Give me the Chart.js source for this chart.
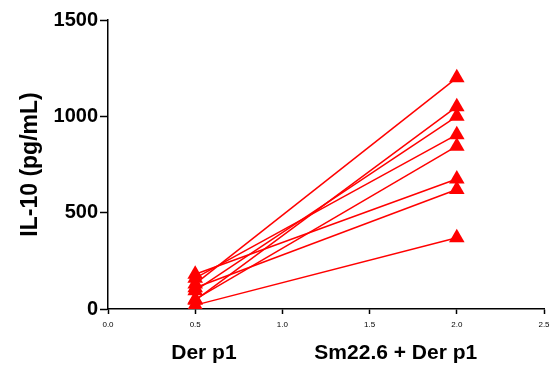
<!DOCTYPE html>
<html>
<head>
<meta charset="utf-8">
<script src="https://cdn.jsdelivr.net/npm/chart.js@4"></script>
<style>
  body { margin: 0; background: #fff; }
  #wrap { width: 553px; height: 366px; }
</style>
</head>
<body>
<div id="wrap"><canvas id="il10Chart"></canvas></div>
<script>
// paired IL-10 values, one line per donor
const derP1 = [130, 45, 95, 160, 50, 180, 110, 20];
const smDerP1 = [1200, 1050, 1000, 905, 845, 675, 620, 370];

const groupX = [0.5, 2.0];
const groupLabels = ['Der p1', 'Sm22.6 + Der p1'];
const groupLabelPos = [0.55, 1.65];

const yTicks = [0, 500, 1000, 1500];

const red = '#ff0000';

const datasets = derP1.map(function (v, i) {
    return {
        label: 'Donor ' + (i + 1),
        data: [
            { x: groupX[0], y: v },
            { x: groupX[1], y: smDerP1[i] }
        ],
        borderColor: red,
        backgroundColor: red,
        borderWidth: 1.5,
        pointStyle: 'triangle',
        pointRadius: 9,
        pointBorderWidth: 0,
        showLine: true
    };
});

new Chart(document.getElementById('il10Chart'), {
    type: 'scatter',
    data: { datasets: datasets },
    options: {
        responsive: true,
        maintainAspectRatio: false,
        animation: false,
        layout: { padding: { top: 20, right: 8, left: 0, bottom: 0 } },
        plugins: {
            legend: { display: false },
            tooltip: { enabled: false }
        },
        scales: {
            x: {
                type: 'linear',
                position: 'bottom',
                min: 0,
                max: 2.5,
                grid: {
                    display: true, drawOnChartArea: false, drawTicks: true,
                    tickLength: 5, tickColor: '#000', tickWidth: 1.5, color: '#000'
                },
                border: { display: true, color: '#000', width: 1.5 },
                ticks: {
                    stepSize: 0.5,
                    padding: 6,
                    color: '#000',
                    font: { family: 'Liberation Sans, Arial, sans-serif', size: 8 },
                    callback: function (v) { return v.toFixed(1); }
                },
                afterFit: function (axis) {
                    axis.height = 26;
                    axis.paddingLeft = 0;
                    axis.paddingRight = 0;
                }
            },
            groups: {
                type: 'linear',
                position: 'bottom',
                min: 0,
                max: 2.5,
                grid: { display: false },
                border: { display: false },
                afterBuildTicks: function (axis) {
                    axis.ticks = groupLabelPos.map(function (v) { return { value: v }; });
                },
                ticks: {
                    autoSkip: false,
                    padding: -2,
                    color: '#000',
                    font: { family: 'Liberation Sans, Arial, sans-serif', size: 21, weight: 'bold' },
                    callback: function (v, i) { return groupLabels[i]; }
                },
                afterFit: function (axis) {
                    axis.height = 31;
                    axis.paddingLeft = 0;
                    axis.paddingRight = 0;
                }
            },
            y: {
                min: 0,
                max: 1500,
                grid: {
                    display: true, drawOnChartArea: false, drawTicks: true,
                    tickLength: 8, tickColor: '#000', tickWidth: 1.5, color: '#000'
                },
                border: { display: true, color: '#000', width: 1.5 },
                afterBuildTicks: function (axis) {
                    axis.ticks = yTicks.map(function (v) { return { value: v }; });
                },
                ticks: {
                    padding: 2,
                    color: '#000',
                    font: { family: 'Liberation Sans, Arial, sans-serif', size: 20, weight: 'bold' },
                    callback: function (v) { return String(v); }
                },
                title: {
                    display: true,
                    text: 'IL-10 (pg/mL)',
                    color: '#000',
                    padding: { top: 17, bottom: 0 },
                    font: { family: 'Liberation Sans, Arial, sans-serif', size: 23, weight: 'bold' }
                },
                afterFit: function (axis) { axis.width = 108; }
            }
        }
    }
});
</script>
</body>
</html>
